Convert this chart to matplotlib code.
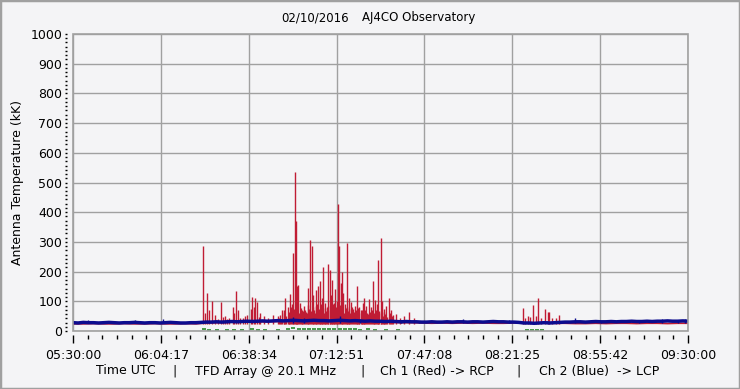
import numpy as np
import matplotlib
matplotlib.use('Agg')
from matplotlib import pyplot as plt
from matplotlib.ticker import AutoMinorLocator, MultipleLocator
from matplotlib.patches import Rectangle

# time axis: minutes after 05:30:00 UTC
xtick_labels = ['05:30:00', '06:04:17', '06:38:34', '07:12:51',
                '07:47:08', '08:21:25', '08:55:42', '09:30:00']

# Ch 2 (blue, LCP) sampled every 2 min
blue_t = np.arange(0, 241, 2)
blue_v = [28, 27, 29, 28, 28, 27, 28, 29, 28, 27, 28, 28, 29, 28, 27, 28, 28, 27, 28, 29, 28, 27, 27, 28, 28,
          29, 30, 30, 31, 30, 31, 32, 31, 32, 33, 32, 33, 34, 33, 34, 35, 34, 35, 36, 35, 34, 35, 36, 35,
          35, 34, 35, 36, 35, 34, 35, 34, 33, 34, 33, 33, 32, 33, 32, 31, 32, 31, 31,
          30, 30, 31, 30, 30, 31, 30, 31, 31, 30, 31, 31, 30, 31, 32, 31, 31, 30, 30, 29,
          27, 27, 26, 27, 28, 27, 28, 29, 30, 30, 31, 31, 30, 31, 32, 31, 31, 32, 31, 32, 32, 33,
          32, 32, 33, 32, 33, 33, 34, 33, 33, 34, 33]
# small blips on ch 2
blue_spike_t = [6, 16, 24, 35, 48, 86, 90, 104, 112, 128, 135, 152, 170, 185, 196, 206, 221, 230, 236, 239]
blue_spike_v = [38, 35, 37, 40, 33, 48, 45, 50, 42, 38, 35, 42, 36, 34, 44, 33, 38, 40, 38, 40]

# Ch 1 (red, RCP) baseline every 4 min
red_t = np.arange(0, 241, 4)
red_v = [24, 24, 25, 24, 24, 25, 24, 24, 25, 24, 24, 25, 24,
         27, 28, 29, 30, 30, 31, 31, 32, 32, 33, 33, 32, 32, 31, 31, 30, 30, 30, 29, 28, 28,
         27, 26, 27, 26, 27, 26, 27, 26, 26, 27,
         26, 27, 27, 26, 26, 25, 25, 26, 25, 26, 26, 25, 26, 26, 25, 26, 26]
# Ch 1 bursts (time in min, peak kK)
red_spike_t = [50.9, 51.5, 52.4, 53.2, 54.4, 55.5, 57.9, 59.5, 61, 62.3, 63.0, 63.7, 64.5, 66.5, 68,
               69.5, 70, 70.5, 71, 71.9, 73, 74.5, 76, 78, 80,
               81.5, 82.9, 83.8, 84.7, 85.4, 86, 86.5, 86.9, 87.4, 87.9, 88.5, 89.2, 90, 90.8, 91.6,
               92.5, 93.2, 93.8, 94.7, 95.2, 95.6, 96.5, 97, 97.6, 98.5, 99.1, 99.7, 100.1, 100.6,
               101.1, 101.7, 102.4, 103, 103.5, 103.9, 104.4, 104.8, 105.5, 106.2, 107, 107.6, 108.4,
               109.2, 110, 110.7, 111.5, 112.3, 113, 113.7, 114.5, 115.6, 116.3, 117, 117.9, 118.6,
               119.2, 120, 120.6, 121.5, 122.3, 123.2, 124, 125, 126, 127.5, 129, 131.2, 133,
               175.7, 176.5, 177.7, 178.5, 179.6, 180.5, 181.6, 182.5, 184, 185.2, 185.9, 187, 188.5, 189.8]
red_spike_v = [285, 60, 129, 70, 101, 55, 99, 50, 45, 82, 60, 133, 70, 45, 55,
               75, 116, 80, 111, 99, 60, 50, 45, 55, 50,
               70, 110, 80, 125, 90, 262, 537, 369, 150, 155, 95, 70, 85, 65, 144,
               307, 285, 120, 138, 90, 150, 167, 110, 215, 94, 80, 226, 206, 120,
               172, 95, 141, 100, 426, 285, 160, 200, 127, 90, 296, 110, 99,
               75, 85, 150, 80, 70, 94, 110, 85, 107, 80, 169, 105, 90,
               240, 313, 100, 75, 85, 110, 70, 55, 57, 45, 50, 63, 45,
               79, 45, 51, 48, 88, 50, 112, 45, 74, 63, 65, 45, 43, 54]
# dense low-level hair under the main burst
red_fill_t = [80.2, 80.8, 81.1, 82.2, 82.5, 83.3, 84.1, 84.4, 85.0, 85.7,
              86.2, 87.1, 87.6, 88.2, 88.8, 89.5, 89.8, 90.4, 91.2, 91.9,
              92.2, 92.8, 93.5, 94.1, 94.4, 95.0, 95.9, 96.2, 96.8, 97.3,
              97.9, 98.2, 98.8, 99.4, 100.3, 100.9, 101.4, 102.0, 102.7, 103.2,
              104.1, 105.1, 105.8, 106.5, 106.8, 107.3, 107.9, 108.1, 108.8, 109.6,
              110.3, 111.0, 111.2, 111.8, 112.6, 112.9, 113.4, 114.1, 114.8, 115.2,
              115.9, 116.6, 117.3, 117.6, 118.2, 118.9, 119.6, 120.3, 120.9, 121.2,
              121.9, 122.7, 123.6, 124.4, 56.5, 58.6, 60.2, 65.3, 67.2, 72.5]
red_fill_v = [45, 55, 40, 60, 72, 50, 65, 58, 80, 62,
              75, 85, 70, 60, 78, 55, 66, 72, 60, 88,
              75, 68, 80, 70, 62, 85, 74, 66, 90, 72,
              60, 78, 68, 84, 70, 66, 92, 74, 80, 65,
              88, 70, 62, 76, 82, 68, 74, 60, 80, 64,
              70, 58, 76, 62, 66, 72, 55, 70, 62, 58,
              64, 70, 56, 62, 72, 58, 66, 60, 52, 64,
              56, 48, 60, 50, 42, 48, 40, 44, 50, 46]

# difference channel (green)
green_t = [51, 53, 56, 60, 63, 66, 70, 72, 75, 80, 84, 86, 88, 90, 92, 94, 96, 98, 100, 102,
           104, 106, 108, 110, 112, 115, 118, 122, 127, 177, 179, 181, 183]
green_v = [6, 4, 5, 3, 5, 4, 6, 5, 4, 3, 7, 9, 8, 7, 8, 7, 8, 6, 7, 8,
           7, 6, 7, 6, 5, 6, 4, 3, 3, 3, 3, 3, 3]

bg = '#f4f4f6'
fig = plt.figure(figsize=(7.4, 3.89), dpi=100, facecolor=bg)
ax = fig.add_axes([73/740, 58/389, 615/740, 297/389], facecolor=bg)

red = '#c01c34'
blue = '#0c0c8e'
ax.vlines(red_fill_t, 25, red_fill_v, color=red, lw=1.0, zorder=3)
ax.vlines(red_spike_t, 25, red_spike_v, color=red, lw=1.0, zorder=3)
ax.plot(red_t, red_v, color=red, lw=1.2, zorder=3)
ax.plot(green_t, green_v, ls='none', marker='_', ms=2.5, mew=1.2, color='#2a8a2a', zorder=3)
ax.vlines(blue_spike_t, 28, blue_spike_v, color=blue, lw=1, zorder=4)
ax.plot(blue_t, blue_v, color=blue, lw=2.5, zorder=4)

ax.set_xlim(0, 240)
ax.set_ylim(0, 1000)
ax.set_xticks(np.linspace(0, 240, 8))
ax.set_xticklabels(xtick_labels)
ax.xaxis.set_minor_locator(AutoMinorLocator(6))
ax.yaxis.set_major_locator(MultipleLocator(100))
ax.yaxis.set_minor_locator(AutoMinorLocator(7))
ax.grid(True, which='major', color='#a0a0a0', lw=1, zorder=1)

for s in ['top', 'right']:
    ax.spines[s].set_visible(False)
ax.spines['bottom'].set_position(('outward', 3))
ax.spines['left'].set_position(('outward', 4.3))
ax.spines['bottom'].set_visible(False)
ax.spines['left'].set_visible(False)
ax.add_patch(Rectangle((0, 0), 1, 1, transform=ax.transAxes, fill=False,
                       edgecolor='#a0a0a0', lw=1.2, zorder=5, clip_on=False))

ax.tick_params(axis='x', which='major', length=5.8, width=1, pad=4, labelsize=9)
ax.tick_params(axis='x', which='minor', length=3, width=1)
ax.tick_params(axis='y', which='major', length=1.5, width=1, pad=2, labelsize=9)
ax.tick_params(axis='y', which='minor', length=1.5, width=1)

ax.set_ylabel('Antenna Temperature (kK)', fontsize=9)
ax.yaxis.set_label_coords(-49/615, 0.5)

# title and footer pieces placed where the reference has them
def ftext(x, y, s, ha='left', size=9):
    fig.text(x/740, 1 - y/389, s, ha=ha, va='center', fontsize=size)

ftext(315, 18, '02/10/2016', ha='center', size=8.5)
ftext(362, 18, 'AJ4CO Observatory', size=8.5)
ftext(96, 371, 'Time UTC')
ftext(175, 371, '|', ha='center')
ftext(195, 371, 'TFD Array @ 20.1 MHz')
ftext(362, 371, '|', ha='center')
ftext(380, 371, 'Ch 1 (Red) -> RCP')
ftext(519, 371, '|', ha='center')
ftext(539, 371, 'Ch 2 (Blue)  -> LCP')

# window frame
fig.add_artist(Rectangle((0, 0), 1, 1, transform=fig.transFigure, fill=False,
                         edgecolor='#a0a0a0', lw=2.5))

fig.savefig('out.png', dpi=100, facecolor=bg)
